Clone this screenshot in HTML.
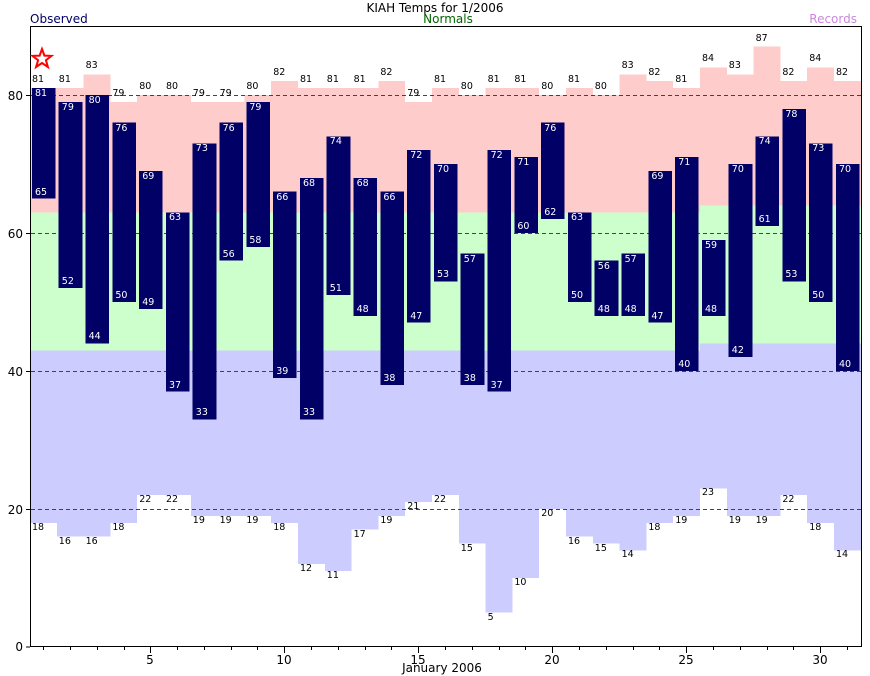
<!DOCTYPE html>
<html><head><meta charset="utf-8"><style>
body{margin:0;background:#fff}
svg{display:block}
text{font-family:"DejaVu Sans","Liberation Sans",sans-serif}
.rl{font-size:9.5px;fill:#000}
.ob{font-size:9.5px;fill:#fff}
</style></head><body>
<svg width="870" height="676" viewBox="0 0 870 676" xmlns="http://www.w3.org/2000/svg">
<rect width="870" height="676" fill="#fff"/>
<g transform="translate(30,647) scale(26.8,-6.9)" shape-rendering="crispEdges">
<g fill="#ffcccc">
<rect x="0" y="63" width="1" height="18"/><rect x="1" y="63" width="1" height="18"/><rect x="2" y="63" width="1" height="20"/><rect x="3" y="63" width="1" height="16"/><rect x="4" y="63" width="1" height="17"/><rect x="5" y="63" width="1" height="17"/><rect x="6" y="63" width="1" height="16"/><rect x="7" y="63" width="1" height="16"/><rect x="8" y="63" width="1" height="17"/><rect x="9" y="63" width="1" height="19"/><rect x="10" y="63" width="1" height="18"/><rect x="11" y="63" width="1" height="18"/><rect x="12" y="63" width="1" height="18"/><rect x="13" y="63" width="1" height="19"/><rect x="14" y="63" width="1" height="16"/><rect x="15" y="63" width="1" height="18"/><rect x="16" y="63" width="1" height="17"/><rect x="17" y="63" width="1" height="18"/><rect x="18" y="63" width="1" height="18"/><rect x="19" y="63" width="1" height="17"/><rect x="20" y="63" width="1" height="18"/><rect x="21" y="63" width="1" height="17"/><rect x="22" y="63" width="1" height="20"/><rect x="23" y="63" width="1" height="19"/><rect x="24" y="63" width="1" height="18"/><rect x="25" y="64" width="1" height="20"/><rect x="26" y="64" width="1" height="19"/><rect x="27" y="64" width="1" height="23"/><rect x="28" y="64" width="1" height="18"/><rect x="29" y="64" width="1" height="20"/><rect x="30" y="64" width="1" height="18"/>
</g>
<rect x="0" y="43" width="25" height="20" fill="#ccffcc"/>
<rect x="25" y="44" width="6" height="20" fill="#ccffcc"/>
<g fill="#ccccff">
<rect x="0" y="18" width="1" height="25"/><rect x="1" y="16" width="1" height="27"/><rect x="2" y="16" width="1" height="27"/><rect x="3" y="18" width="1" height="25"/><rect x="4" y="22" width="1" height="21"/><rect x="5" y="22" width="1" height="21"/><rect x="6" y="19" width="1" height="24"/><rect x="7" y="19" width="1" height="24"/><rect x="8" y="19" width="1" height="24"/><rect x="9" y="18" width="1" height="25"/><rect x="10" y="12" width="1" height="31"/><rect x="11" y="11" width="1" height="32"/><rect x="12" y="17" width="1" height="26"/><rect x="13" y="19" width="1" height="24"/><rect x="14" y="21" width="1" height="22"/><rect x="15" y="22" width="1" height="21"/><rect x="16" y="15" width="1" height="28"/><rect x="17" y="5" width="1" height="38"/><rect x="18" y="10" width="1" height="33"/><rect x="19" y="20" width="1" height="23"/><rect x="20" y="16" width="1" height="27"/><rect x="21" y="15" width="1" height="28"/><rect x="22" y="14" width="1" height="29"/><rect x="23" y="18" width="1" height="25"/><rect x="24" y="19" width="1" height="24"/><rect x="25" y="23" width="1" height="21"/><rect x="26" y="19" width="1" height="25"/><rect x="27" y="19" width="1" height="25"/><rect x="28" y="22" width="1" height="22"/><rect x="29" y="18" width="1" height="26"/><rect x="30" y="14" width="1" height="30"/>
</g>
</g>
<g stroke="#444" stroke-width="1" stroke-dasharray="4,3">
<line x1="31" y1="95.5" x2="861" y2="95.5"/><line x1="31" y1="233.5" x2="861" y2="233.5"/><line x1="31" y1="371.5" x2="861" y2="371.5"/><line x1="31" y1="509.5" x2="861" y2="509.5"/>
</g>
<g transform="translate(30,647) scale(26.8,-6.9)" shape-rendering="crispEdges">
<g fill="#000066">
<rect x="0.07" y="65" width="0.88" height="16"/><rect x="1.07" y="52" width="0.88" height="27"/><rect x="2.07" y="44" width="0.88" height="36"/><rect x="3.07" y="50" width="0.88" height="26"/><rect x="4.07" y="49" width="0.88" height="20"/><rect x="5.07" y="37" width="0.88" height="26"/><rect x="6.07" y="33" width="0.88" height="40"/><rect x="7.07" y="56" width="0.88" height="20"/><rect x="8.07" y="58" width="0.88" height="21"/><rect x="9.07" y="39" width="0.88" height="27"/><rect x="10.07" y="33" width="0.88" height="35"/><rect x="11.07" y="51" width="0.88" height="23"/><rect x="12.07" y="48" width="0.88" height="20"/><rect x="13.07" y="38" width="0.88" height="28"/><rect x="14.07" y="47" width="0.88" height="25"/><rect x="15.07" y="53" width="0.88" height="17"/><rect x="16.07" y="38" width="0.88" height="19"/><rect x="17.07" y="37" width="0.88" height="35"/><rect x="18.07" y="60" width="0.88" height="11"/><rect x="19.07" y="62" width="0.88" height="14"/><rect x="20.07" y="50" width="0.88" height="13"/><rect x="21.07" y="48" width="0.88" height="8"/><rect x="22.07" y="48" width="0.88" height="9"/><rect x="23.07" y="47" width="0.88" height="22"/><rect x="24.07" y="40" width="0.88" height="31"/><rect x="25.07" y="48" width="0.88" height="11"/><rect x="26.07" y="42" width="0.88" height="28"/><rect x="27.07" y="61" width="0.88" height="13"/><rect x="28.07" y="53" width="0.88" height="25"/><rect x="29.07" y="50" width="0.88" height="23"/><rect x="30.07" y="40" width="0.88" height="30"/>
</g>
</g>
<rect x="30.5" y="26.5" width="831" height="620" fill="none" stroke="#000" stroke-width="1"/>
<g stroke="#000" stroke-width="1">
<line x1="26" y1="647" x2="30" y2="647"/><line x1="26" y1="509.5" x2="30" y2="509.5"/><line x1="26" y1="371.5" x2="30" y2="371.5"/><line x1="26" y1="233.5" x2="30" y2="233.5"/><line x1="26" y1="95.5" x2="30" y2="95.5"/>
<path d="M43.5 647v3M70.5 647v3M97.5 647v3M124.5 647v3M150.5 647v6M177.5 647v3M204.5 647v3M231.5 647v3M257.5 647v3M284.5 647v6M311.5 647v3M338.5 647v3M365.5 647v3M391.5 647v3M418.5 647v6M445.5 647v3M472.5 647v3M499.5 647v3M525.5 647v3M552.5 647v6M579.5 647v3M606.5 647v3M633.5 647v3M659.5 647v3M686.5 647v6M713.5 647v3M740.5 647v3M767.5 647v3M793.5 647v3M820.5 647v6M847.5 647v3"/>
</g>
<g font-size="12" fill="#000" text-anchor="end">
<text x="23" y="651">0</text><text x="23" y="514">20</text><text x="23" y="376">40</text><text x="23" y="238">60</text><text x="23" y="100">80</text>
</g>
<g font-size="12" fill="#000" text-anchor="middle">
<text x="150" y="664">5</text><text x="284" y="664">10</text><text x="418" y="664">15</text><text x="552" y="664">20</text><text x="686" y="664">25</text><text x="820" y="664">30</text>
<text x="442" y="672">January 2006</text>
<text x="435" y="12">KIAH Temps for 1/2006</text>
<text x="448" y="23" fill="#006600">Normals</text>
</g>
<text x="30" y="23" font-size="12" fill="#000066">Observed</text>
<text x="857" y="23" font-size="12" fill="#cc88dd" text-anchor="end">Records</text>
<polygon points="42,49 44.4,55.6 51.5,55.9 45.9,60.2 47.9,67 42,63 36.1,67 38.1,60.2 32.5,55.9 39.6,55.6" fill="#fff" stroke="#ff0000" stroke-width="2"/>
<g class="rl">
<text x="32" y="82">81</text><text x="58.8" y="82">81</text><text x="85.6" y="68">83</text><text x="112.4" y="96">79</text><text x="139.2" y="89">80</text><text x="166" y="89">80</text><text x="192.8" y="96">79</text><text x="219.6" y="96">79</text><text x="246.4" y="89">80</text><text x="273.2" y="75">82</text><text x="300" y="82">81</text><text x="326.8" y="82">81</text><text x="353.6" y="82">81</text><text x="380.4" y="75">82</text><text x="407.2" y="96">79</text><text x="434" y="82">81</text><text x="460.8" y="89">80</text><text x="487.6" y="82">81</text><text x="514.4" y="82">81</text><text x="541.2" y="89">80</text><text x="568" y="82">81</text><text x="594.8" y="89">80</text><text x="621.6" y="68">83</text><text x="648.4" y="75">82</text><text x="675.2" y="82">81</text><text x="702" y="61">84</text><text x="728.8" y="68">83</text><text x="755.6" y="41">87</text><text x="782.4" y="75">82</text><text x="809.2" y="61">84</text><text x="836" y="75">82</text>
<text x="32" y="530">18</text><text x="58.8" y="544">16</text><text x="85.6" y="544">16</text><text x="112.4" y="530">18</text><text x="139.2" y="502">22</text><text x="166" y="502">22</text><text x="192.8" y="523">19</text><text x="219.6" y="523">19</text><text x="246.4" y="523">19</text><text x="273.2" y="530">18</text><text x="300" y="571">12</text><text x="326.8" y="578">11</text><text x="353.6" y="537">17</text><text x="380.4" y="523">19</text><text x="407.2" y="509">21</text><text x="434" y="502">22</text><text x="460.8" y="551">15</text><text x="487.6" y="620">5</text><text x="514.4" y="585">10</text><text x="541.2" y="516">20</text><text x="568" y="544">16</text><text x="594.8" y="551">15</text><text x="621.6" y="557">14</text><text x="648.4" y="530">18</text><text x="675.2" y="523">19</text><text x="702" y="495">23</text><text x="728.8" y="523">19</text><text x="755.6" y="523">19</text><text x="782.4" y="502">22</text><text x="809.2" y="530">18</text><text x="836" y="557">14</text>
</g>
<g class="ob">
<text x="35" y="96">81</text><text x="35" y="195">65</text>
<text x="61.8" y="110">79</text><text x="61.8" y="284">52</text>
<text x="88.6" y="103">80</text><text x="88.6" y="339">44</text>
<text x="115.4" y="131">76</text><text x="115.4" y="298">50</text>
<text x="142.2" y="179">69</text><text x="142.2" y="305">49</text>
<text x="169" y="220">63</text><text x="169" y="388">37</text>
<text x="195.8" y="151">73</text><text x="195.8" y="415">33</text>
<text x="222.6" y="131">76</text><text x="222.6" y="257">56</text>
<text x="249.4" y="110">79</text><text x="249.4" y="243">58</text>
<text x="276.2" y="200">66</text><text x="276.2" y="374">39</text>
<text x="303" y="186">68</text><text x="303" y="415">33</text>
<text x="329.8" y="144">74</text><text x="329.8" y="291">51</text>
<text x="356.6" y="186">68</text><text x="356.6" y="312">48</text>
<text x="383.4" y="200">66</text><text x="383.4" y="381">38</text>
<text x="410.2" y="158">72</text><text x="410.2" y="319">47</text>
<text x="437" y="172">70</text><text x="437" y="277">53</text>
<text x="463.8" y="262">57</text><text x="463.8" y="381">38</text>
<text x="490.6" y="158">72</text><text x="490.6" y="388">37</text>
<text x="517.4" y="165">71</text><text x="517.4" y="229">60</text>
<text x="544.2" y="131">76</text><text x="544.2" y="215">62</text>
<text x="571" y="220">63</text><text x="571" y="298">50</text>
<text x="597.8" y="269">56</text><text x="597.8" y="312">48</text>
<text x="624.6" y="262">57</text><text x="624.6" y="312">48</text>
<text x="651.4" y="179">69</text><text x="651.4" y="319">47</text>
<text x="678.2" y="165">71</text><text x="678.2" y="367">40</text>
<text x="705" y="248">59</text><text x="705" y="312">48</text>
<text x="731.8" y="172">70</text><text x="731.8" y="353">42</text>
<text x="758.6" y="144">74</text><text x="758.6" y="222">61</text>
<text x="785.4" y="117">78</text><text x="785.4" y="277">53</text>
<text x="812.2" y="151">73</text><text x="812.2" y="298">50</text>
<text x="839" y="172">70</text><text x="839" y="367">40</text>
</g>
</svg>
</body></html>
